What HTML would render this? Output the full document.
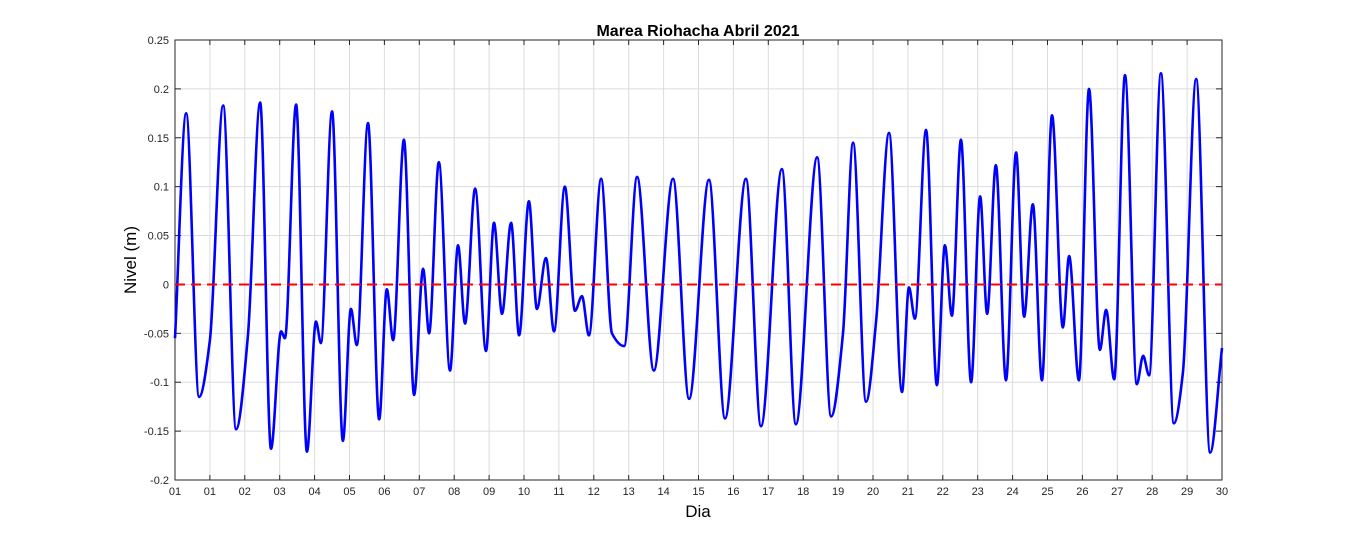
<!DOCTYPE html>
<html><head><meta charset="utf-8"><style>
body{margin:0;background:#fff;}
svg text{font-family:"Liberation Sans",Arial,sans-serif;}
</style></head><body>
<svg id="chart" width="1351" height="540" xmlns="http://www.w3.org/2000/svg">
<rect width="1351" height="540" fill="#fff"/>
<g id="grid"></g>
<g id="axes"></g>
<g id="series"></g>
<text x="698" y="36" text-anchor="middle" font-size="16" font-weight="bold">Marea Riohacha Abril 2021</text>
<text x="698" y="517" text-anchor="middle" font-size="17">Dia</text>
<text transform="translate(136,260) rotate(-90)" text-anchor="middle" font-size="17">Nivel (m)</text>
</svg>
<script>
const xTickLabels=["01","01","02","03","04","05","06","07","08","09","10","11","12","13","14","15","16","17","18","19","20","21","22","23","24","25","26","27","28","29","30"];
const yTicks=[-0.2,-0.15,-0.1,-0.05,0,0.05,0.1,0.15,0.2,0.25];
const yTickLabels=["-0.2","-0.15","-0.1","-0.05","0","0.05","0.1","0.15","0.2","0.25"];
const days=[0,0.32,0.69,1.00,1.38,1.75,2.09,2.44,2.75,3.04,3.15,3.47,3.78,4.04,4.18,4.50,4.81,5.04,5.21,5.53,5.85,6.07,6.25,6.56,6.85,7.11,7.28,7.56,7.88,8.11,8.31,8.60,8.91,9.14,9.37,9.63,9.86,10.14,10.37,10.63,10.86,11.17,11.46,11.66,11.86,12.21,12.52,12.87,13.24,13.72,14.27,14.73,15.30,15.76,16.36,16.79,17.39,17.79,18.40,18.80,19.14,19.43,19.80,20.09,20.46,20.83,21.03,21.20,21.52,21.83,22.06,22.26,22.52,22.81,23.07,23.27,23.52,23.81,24.10,24.33,24.58,24.84,25.13,25.44,25.62,25.90,26.19,26.50,26.68,26.91,27.22,27.56,27.74,27.91,28.25,28.62,28.88,29.26,29.66,30.00];
const levels=[-0.055,0.175,-0.115,-0.057,0.183,-0.148,-0.052,0.186,-0.168,-0.048,-0.055,0.184,-0.171,-0.038,-0.06,0.177,-0.16,-0.025,-0.062,0.165,-0.138,-0.005,-0.057,0.148,-0.113,0.016,-0.05,0.125,-0.088,0.04,-0.04,0.098,-0.068,0.063,-0.03,0.063,-0.052,0.085,-0.025,0.027,-0.048,0.10,-0.027,-0.012,-0.052,0.108,-0.05,-0.063,0.11,-0.088,0.108,-0.117,0.107,-0.137,0.108,-0.145,0.118,-0.143,0.13,-0.135,-0.05,0.145,-0.12,-0.037,0.155,-0.11,-0.003,-0.035,0.158,-0.103,0.04,-0.032,0.148,-0.10,0.09,-0.03,0.122,-0.098,0.135,-0.033,0.082,-0.098,0.173,-0.044,0.029,-0.098,0.2,-0.067,-0.026,-0.097,0.214,-0.102,-0.073,-0.093,0.216,-0.142,-0.09,0.21,-0.172,-0.065];
const refLevel=[0];

const L=175,R=1222,T=40,B=480;
const xs=d=>L+(d/30)*(R-L);
const ys=v=>B-(v+0.2)/0.45*(B-T);
const NS="http://www.w3.org/2000/svg";
function mk(tag,parent,attrs){const e=document.createElementNS(NS,tag);for(const k in attrs)e.setAttribute(k,attrs[k]);parent.appendChild(e);return e;}
const grid=document.getElementById('grid'),axes=document.getElementById('axes'),ser=document.getElementById('series');

xTickLabels.forEach((lab,i)=>{
  const x=xs(i);
  const g=mk('line',grid,{x1:x,x2:x,y1:T,y2:B,stroke:'#dcdcdc','stroke-width':1});
  
  
  mk('line',axes,{x1:x,x2:x,y1:B,y2:B-5,stroke:'#262626'});
  mk('line',axes,{x1:x,x2:x,y1:T,y2:T+5,stroke:'#262626'});
  const t=mk('text',axes,{x:x,y:B+15,'text-anchor':'middle','font-size':11,fill:'#262626'});
  t.textContent=lab;
  
  
});
yTicks.forEach((v,i)=>{
  const y=ys(v);
  const g=mk('line',grid,{x1:L,x2:R,y1:y,y2:y,stroke:'#dcdcdc','stroke-width':1});
  
  
  mk('line',axes,{x1:L,x2:L+6,y1:y,y2:y,stroke:'#262626'});
  mk('line',axes,{x1:R,x2:R-6,y1:y,y2:y,stroke:'#262626'});
  const t=mk('text',axes,{x:L-6,y:y+4,'text-anchor':'end','font-size':11,fill:'#262626'});
  t.textContent=yTickLabels[i];
  
  
});
const box=mk('rect',axes,{x:L,y:T,width:R-L,height:B-T,fill:'none',stroke:'#262626','stroke-width':1});



// monotone cubic interpolation through read extrema
const n=days.length,m=new Array(n).fill(0),dl=[];
for(let i=0;i<n-1;i++)dl.push((levels[i+1]-levels[i])/(days[i+1]-days[i]));
m[0]=dl[0];m[n-1]=dl[n-2];
for(let i=1;i<n-1;i++){m[i]=(dl[i-1]*dl[i]<=0)?0:2/(1/dl[i-1]+1/dl[i]);}
let d="M"+xs(days[0]).toFixed(2)+","+ys(levels[0]).toFixed(2);
for(let i=0;i<n-1;i++){
  const h=days[i+1]-days[i];
  const c1x=xs(days[i]+h/3),c1y=ys(levels[i]+m[i]*h/3);
  const c2x=xs(days[i+1]-h/3),c2y=ys(levels[i+1]-m[i+1]*h/3);
  d+=" C"+c1x.toFixed(2)+","+c1y.toFixed(2)+" "+c2x.toFixed(2)+","+c2y.toFixed(2)+" "+xs(days[i+1]).toFixed(2)+","+ys(levels[i+1]).toFixed(2);
}
const line=mk('path',ser,{d:d,fill:'none',stroke:'#0000ff','stroke-width':2.6,'stroke-linejoin':'round'});


const zl=mk('line',ser,{x1:L,x2:R,y1:ys(refLevel[0]),y2:ys(refLevel[0]),stroke:'#ff0000','stroke-width':2,'stroke-dasharray':'10,6'});


</script>
</body></html>
